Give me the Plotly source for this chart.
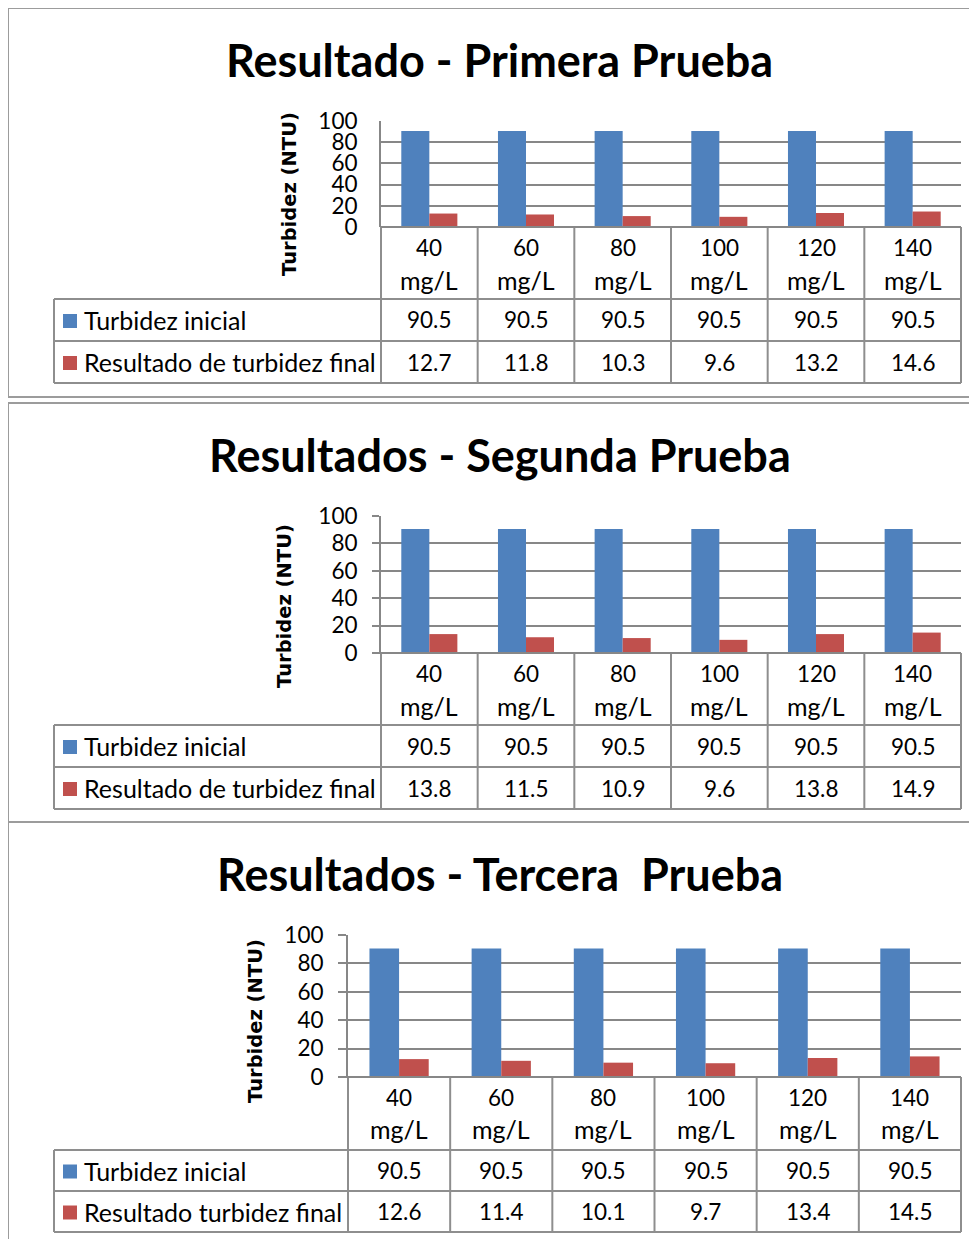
import plotly.graph_objects as go

W, H = 977, 1239

# ---------------- data ----------------
doses = ["40", "60", "80", "100", "120", "140"]
unit = "mg/L"
titles = ["Resultado - Primera Prueba",
          "Resultados - Segunda Prueba",
          "Resultados - Tercera\u00a0 Prueba"]
y_title = "Turbidez (NTU)"
y_ticks = [0, 20, 40, 60, 80, 100]
name_initial = "Turbidez inicial"
names_final = ["Resultado de turbidez final",
               "Resultado de turbidez final",
               "Resultado turbidez final"]

inicial_1 = [90.5, 90.5, 90.5, 90.5, 90.5, 90.5]
final_1 = [12.7, 11.8, 10.3, 9.6, 13.2, 14.6]
inicial_2 = [90.5, 90.5, 90.5, 90.5, 90.5, 90.5]
final_2 = [13.8, 11.5, 10.9, 9.6, 13.8, 14.9]
inicial_3 = [90.5, 90.5, 90.5, 90.5, 90.5, 90.5]
final_3 = [12.6, 11.4, 10.1, 9.7, 13.4, 14.5]

series = [(inicial_1, final_1), (inicial_2, final_2), (inicial_3, final_3)]

# ---------------- style / layout geometry (page pixels) ----------------
BLUE = "#4F81BD"
RED = "#C0504D"
GRID = "#878787"
TABLE = "#8E8E8E"
BORDER = "#9C9C9C"
FONT = "Lato"
TXT_SIZE = 25
NUM_SIZE = 22.5
OFF = 8  # page body margin offset

panels = [
    dict(top=8, bottom=397, title_y=60, pl=381, pr=961, pt=121, pb=227,
         hb=299, r1=341, r2=383, ytx=289, yty=194, n1=247, n2=280, ticklen=0),
    dict(top=403, bottom=822, title_y=455, pl=381, pr=961, pt=516, pb=653,
         hb=725, r1=767, r2=809, ytx=285, yty=606, n1=673, n2=706, ticklen=7),
    dict(top=822, bottom=1260, title_y=874, pl=348, pr=961, pt=935, pb=1077,
         hb=1150, r1=1191, r2=1232, ytx=255, yty=1021, n1=1097, n2=1129, ticklen=8),
]
TABLE_L = 54


def fx(px):
    return (px - OFF) / W


def fy(py):
    return 1 - (py - OFF) / H


fig = go.Figure()
shapes = []
annotations = []
layout_axes = {}

for k, (p, (ini, fin)) in enumerate(zip(panels, series)):
    idx = "" if k == 0 else str(k + 1)
    xa, ya = "x" + idx, "y" + idx

    fig.add_trace(go.Bar(x=doses, y=ini, name=name_initial,
                         marker=dict(color=BLUE, line=dict(width=0)),
                         xaxis=xa, yaxis=ya, showlegend=False))
    fig.add_trace(go.Bar(x=doses, y=fin, name=names_final[k],
                         marker=dict(color=RED, line=dict(width=0)),
                         xaxis=xa, yaxis=ya, showlegend=False))

    layout_axes["xaxis" + idx] = dict(
        domain=[fx(p["pl"]), fx(p["pr"])], anchor=ya, type="category",
        range=[-0.5, len(doses) - 0.5], showgrid=False, showline=False,
        showticklabels=False, ticks="", zeroline=False, automargin=False)
    layout_axes["yaxis" + idx] = dict(
        domain=[fy(p["pb"]), fy(p["pt"])], anchor=xa, range=[0, 100],
        tickvals=y_ticks, showgrid=True, gridcolor=GRID, gridwidth=1.6,
        showline=True, linecolor=GRID, linewidth=2,
        ticks="outside" if p["ticklen"] else "", ticklen=max(p["ticklen"], 1),
        tickcolor=GRID, tickwidth=1.6, zeroline=False,
        ticklabelstandoff=10 if p["ticklen"] else 17, automargin=False,
        tickfont=dict(family=FONT, size=NUM_SIZE, color="black"))

    # panel border (top, left, bottom)
    for (x0, y0, x1, y1) in [(8, p["top"], 990, p["top"]), (8, p["top"], 8, p["bottom"]),
                             (8, p["bottom"], 990, p["bottom"])]:
        shapes.append(dict(type="line", xref="paper", yref="paper", x0=fx(x0), y0=fy(y0),
                           x1=fx(x1), y1=fy(y1), line=dict(color=BORDER, width=2)))

    # title
    annotations.append(dict(text="<b>%s</b>" % titles[k], xref="paper", yref="paper",
                            x=fx(499.5), y=fy(p["title_y"]), xanchor="center", yanchor="middle",
                            showarrow=False, font=dict(family=FONT, size=45, color="black")))
    # y axis title
    annotations.append(dict(text="<b>%s</b>" % y_title, xref="paper", yref="paper",
                            x=fx(p["ytx"]), y=fy(p["yty"]), xanchor="center", yanchor="middle",
                            textangle=-90, showarrow=False,
                            font=dict(family="DejaVu Sans", size=19.5, color="black")))

    # data-table grid lines
    colw = (p["pr"] - p["pl"]) / len(doses)
    for i in range(len(doses) + 1):
        xx = p["pl"] + i * colw
        shapes.append(dict(type="line", xref="paper", yref="paper", x0=fx(xx), y0=fy(p["pb"]),
                           x1=fx(xx), y1=fy(p["r2"]), line=dict(color=TABLE, width=2)))
    shapes.append(dict(type="line", xref="paper", yref="paper",
                       x0=fx(p["pl"] - p["ticklen"]), y0=fy(p["pb"]),
                       x1=fx(p["pr"]), y1=fy(p["pb"]), line=dict(color=GRID, width=2)))
    for yy in (p["hb"], p["r1"], p["r2"]):
        shapes.append(dict(type="line", xref="paper", yref="paper", x0=fx(TABLE_L), y0=fy(yy),
                           x1=fx(p["pr"]), y1=fy(yy), line=dict(color=TABLE, width=2)))
    shapes.append(dict(type="line", xref="paper", yref="paper", x0=fx(TABLE_L), y0=fy(p["hb"]),
                       x1=fx(TABLE_L), y1=fy(p["r2"]), line=dict(color=TABLE, width=2)))

    # category header labels (positioned through the category axis)
    for i, d in enumerate(doses):
        annotations.append(dict(text=d, xref=xa, yref="paper", x=i, y=fy(p["n1"]),
                                xanchor="center", yanchor="middle", showarrow=False,
                                font=dict(family=FONT, size=NUM_SIZE, color="black")))
        annotations.append(dict(text=unit, xref=xa, yref="paper", x=i, y=fy(p["n2"]),
                                xanchor="center", yanchor="middle", showarrow=False,
                                font=dict(family=FONT, size=TXT_SIZE, color="black")))

    # table rows with legend keys
    row_mid = [(p["hb"] + p["r1"]) / 2, (p["r1"] + p["r2"]) / 2]
    for r, (vals, nm, col) in enumerate([(ini, name_initial, BLUE), (fin, names_final[k], RED)]):
        ym = row_mid[r]
        shapes.append(dict(type="rect", xref="paper", yref="paper", x0=fx(63), x1=fx(77),
                           y0=fy(ym - 6), y1=fy(ym + 8), fillcolor=col, line=dict(width=0)))
        annotations.append(dict(text=nm, xref="paper", yref="paper", x=fx(82), y=fy(ym),
                                xanchor="left", yanchor="middle", showarrow=False,
                                font=dict(family=FONT, size=TXT_SIZE, color="black")))
        for i, v in enumerate(vals):
            annotations.append(dict(text=f"{v:g}", xref=xa, yref="paper", x=i, y=fy(ym),
                                    xanchor="center", yanchor="middle", showarrow=False,
                                    font=dict(family=FONT, size=NUM_SIZE, color="black")))

fig.update_layout(
    width=W, height=H, autosize=False,
    margin=dict(l=0, r=0, t=0, b=0, pad=0),
    paper_bgcolor="white", plot_bgcolor="white",
    barmode="group", bargap=0.42, bargroupgap=0,
    showlegend=False, shapes=shapes, annotations=annotations,
    **layout_axes,
)

fig.write_html("out.html")
